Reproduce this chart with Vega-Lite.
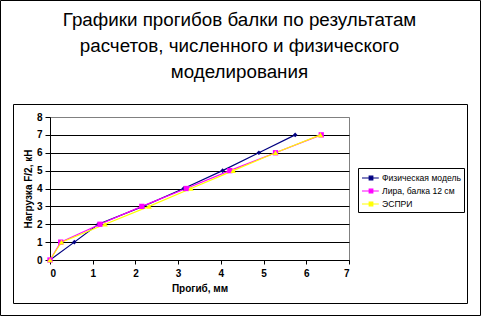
{
  "$schema": "https://vega.github.io/schema/vega-lite/v6.json",
  "autosize": "none",
  "width": 299,
  "height": 143,
  "padding": {"left": 50, "top": 117, "right": 133, "bottom": 57},
  "background": "white",
  "config": {
    "font": "Liberation Sans",
    "view": {"stroke": "#808080", "strokeWidth": 1}
  },
  "title": {
    "text": ["Графики прогибов балки по результатам", "расчетов, численного и физического", "моделирования"],
    "font": "Liberation Sans",
    "fontSize": 18.8,
    "fontWeight": "normal",
    "color": "black",
    "anchor": "middle",
    "frame": "group",
    "baseline": "bottom",
    "dx": 40,
    "lineHeight": 26,
    "offset": -101
  },
  "datasets": {
    "pts": [
      {"series": "Физическая модель", "x": 0, "y": 0},
      {"series": "Физическая модель", "x": 0.57, "y": 1},
      {"series": "Физическая модель", "x": 1.13, "y": 2},
      {"series": "Физическая модель", "x": 2.18, "y": 3},
      {"series": "Физическая модель", "x": 3.13, "y": 4},
      {"series": "Физическая модель", "x": 4.04, "y": 5},
      {"series": "Физическая модель", "x": 4.89, "y": 6},
      {"series": "Физическая модель", "x": 5.74, "y": 7},
      {"series": "Лира, балка 12 см", "x": 0, "y": 0},
      {"series": "Лира, балка 12 см", "x": 0.25, "y": 1},
      {"series": "Лира, балка 12 см", "x": 1.17, "y": 2},
      {"series": "Лира, балка 12 см", "x": 2.15, "y": 3},
      {"series": "Лира, балка 12 см", "x": 3.19, "y": 4},
      {"series": "Лира, балка 12 см", "x": 4.21, "y": 5},
      {"series": "Лира, балка 12 см", "x": 5.28, "y": 6},
      {"series": "Лира, балка 12 см", "x": 6.35, "y": 7},
      {"series": "ЭСПРИ", "x": 0, "y": 0},
      {"series": "ЭСПРИ", "x": 0.27, "y": 1},
      {"series": "ЭСПРИ", "x": 1.29, "y": 2},
      {"series": "ЭСПРИ", "x": 2.32, "y": 3},
      {"series": "ЭСПРИ", "x": 3.3, "y": 4},
      {"series": "ЭСПРИ", "x": 4.29, "y": 5},
      {"series": "ЭСПРИ", "x": 5.28, "y": 6},
      {"series": "ЭСПРИ", "x": 6.33, "y": 7}
    ]
  },
  "data": {"name": "pts"},
  "encoding": {
    "x": {
      "field": "x", "type": "quantitative",
      "scale": {"domain": [0, 7], "nice": false},
      "axis": {
        "title": "Прогиб, мм",
        "values": [0, 1, 2, 3, 4, 5, 6, 7],
        "labelOverlap": false,
        "grid": false,
        "domainColor": "black",
        "tickColor": "black",
        "tickSize": 4,
        "labelFont": "Liberation Sans",
        "labelFontSize": 10,
        "labelFontWeight": "bold",
        "labelColor": "black",
        "labelPadding": 4,
        "titleFont": "Liberation Sans",
        "titleFontSize": 10,
        "titleFontWeight": "bold",
        "titleColor": "black",
        "titlePadding": 5
      }
    },
    "y": {
      "field": "y", "type": "quantitative",
      "scale": {"domain": [0, 8], "nice": false},
      "axis": {
        "title": "Нагрузка F/2, кН",
        "values": [0, 1, 2, 3, 4, 5, 6, 7, 8],
        "labelOverlap": false,
        "grid": true,
        "gridColor": {"condition": {"test": "datum.value === 8", "value": "#808080"}, "value": "black"},
        "gridOpacity": 1,
        "gridWidth": 1,
        "domainColor": "black",
        "tickColor": "black",
        "tickSize": 5,
        "labelFont": "Liberation Sans",
        "labelFontSize": 10,
        "labelFontWeight": "bold",
        "labelColor": "black",
        "labelPadding": 3,
        "titleFont": "Liberation Sans",
        "titleFontSize": 10,
        "titleFontWeight": "bold",
        "titleColor": "black",
        "titlePadding": 3
      }
    }
  },
  "layer": [
    {
      "data": {"values": [{}]},
      "mark": {"type": "rect", "fill": null, "stroke": "black", "strokeWidth": 1, "clip": false},
      "encoding": {
        "x": {"value": -49.5}, "x2": {"value": 430.5},
        "y": {"value": -116.5}, "y2": {"value": 198.5}
      }
    },
    {
      "data": {"values": [{}]},
      "mark": {"type": "rect", "fill": null, "stroke": "black", "strokeWidth": 1, "clip": false},
      "encoding": {
        "x": {"value": -36.5}, "x2": {"value": 417.5},
        "y": {"value": -12.5}, "y2": {"value": 186.5}
      }
    },
    {
      "mark": {"type": "line", "strokeWidth": 1.2},
      "encoding": {
        "color": {
          "field": "series", "type": "nominal",
          "scale": {"domain": ["Физическая модель", "Лира, балка 12 см", "ЭСПРИ"], "range": ["#000080", "#FF00FF", "#FFFF00"]},
          "legend": {
            "title": null,
            "orient": "none",
            "legendX": 308,
            "legendY": 51,
            "strokeColor": "black",
            "fillColor": "white",
            "padding": 3,
            "symbolType": "M-1,0H1.8M0.2,-0.3H0.8V0.3H0.2Z",
            "symbolSize": 144,
            "symbolStrokeWidth": 1.2,
            "labelFont": "Liberation Sans",
            "labelFontSize": 8.6,
            "labelColor": "black",
            "labelOffset": 7,
            "rowPadding": 1
          }
        },
        "order": {"field": "y"}
      }
    },
    {
      "transform": [{"filter": "datum.series === 'Физическая модель'"}],
      "mark": {"type": "point", "shape": "diamond", "filled": true, "size": 22, "opacity": 1},
      "encoding": {
        "color": {"field": "series", "type": "nominal"}
      }
    },
    {
      "transform": [{"filter": "datum.series === 'Лира, балка 12 см'"}],
      "mark": {"type": "point", "shape": "square", "filled": true, "size": 28, "opacity": 1},
      "encoding": {
        "color": {"field": "series", "type": "nominal"}
      }
    },
    {
      "transform": [{"filter": "datum.series === 'ЭСПРИ'"}],
      "mark": {"type": "point", "shape": "triangle-up", "filled": true, "size": 30, "opacity": 1},
      "encoding": {
        "color": {"field": "series", "type": "nominal"}
      }
    }
  ]
}
